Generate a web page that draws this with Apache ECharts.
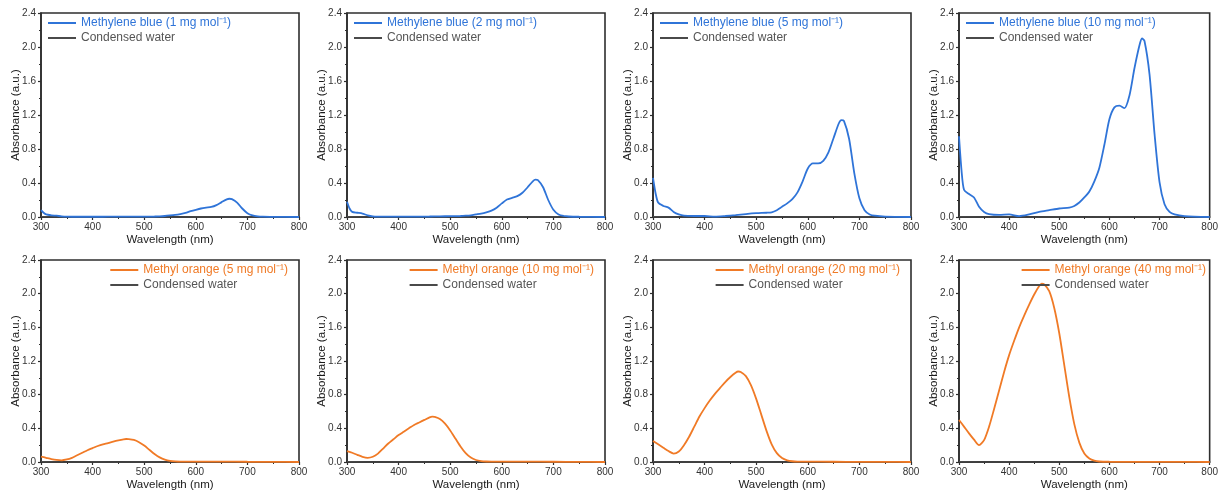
<!DOCTYPE html>
<html>
<head>
<meta charset="utf-8">
<script src="https://cdn.jsdelivr.net/npm/echarts@6/dist/echarts.min.js"></script>
<style>
  html, body { margin: 0; padding: 0; background: #fff; }
  #chart { width: 1221px; height: 492px; }
</style>
</head>
<body>
<div id="chart"></div>
<script>
// Wavelength grids (nm)
const mbWavelength = [300,305,310,320,330,340,350,360,380,400,420,440,460,480,500,520,530,540,550,560,570,580,590,600,610,620,630,640,650,660,665,670,680,690,700,710,720,730,750,800];
const moWavelength = [300,310,320,330,340,350,360,370,380,390,400,410,420,430,440,450,460,465,470,480,490,500,510,520,530,540,550,560,570,580,600,650,700,750,800];
const waterWavelength = [300,350,400,450,500,550,600,650,700,750,800];

// Methylene blue absorbance (a.u.)
const mb1 = [0.08,0.05,0.03,0.02,0.015,0.008,0.004,0.003,0.003,0.003,0.003,0.004,0.004,0.005,0.005,0.006,0.008,0.012,0.018,0.025,0.035,0.048,0.068,0.085,0.10,0.11,0.118,0.14,0.175,0.208,0.215,0.21,0.17,0.10,0.045,0.018,0.008,0.004,0.002,0.0];
const mb2 = [0.18,0.10,0.06,0.05,0.04,0.02,0.008,0.005,0.004,0.004,0.004,0.005,0.006,0.008,0.01,0.012,0.015,0.02,0.03,0.04,0.055,0.075,0.11,0.16,0.205,0.225,0.245,0.285,0.35,0.42,0.44,0.435,0.35,0.20,0.085,0.03,0.012,0.006,0.003,0.0];
const mb5 = [0.46,0.28,0.17,0.13,0.11,0.06,0.03,0.015,0.012,0.012,0.005,0.012,0.022,0.035,0.045,0.05,0.055,0.08,0.12,0.16,0.21,0.29,0.42,0.57,0.63,0.63,0.66,0.76,0.93,1.10,1.14,1.13,0.92,0.52,0.22,0.08,0.03,0.015,0.005,0.0];
const mb10 = [0.95,0.55,0.32,0.27,0.23,0.12,0.06,0.035,0.025,0.03,0.01,0.03,0.06,0.08,0.10,0.11,0.13,0.17,0.23,0.30,0.42,0.58,0.85,1.15,1.29,1.31,1.28,1.43,1.75,2.02,2.10,2.07,1.68,0.98,0.41,0.15,0.06,0.03,0.01,0.0];

// Methyl orange absorbance (a.u.)
const mo5 = [0.065,0.05,0.035,0.024,0.02,0.03,0.05,0.08,0.11,0.14,0.165,0.19,0.21,0.225,0.243,0.258,0.27,0.273,0.272,0.262,0.235,0.195,0.145,0.095,0.055,0.028,0.013,0.007,0.005,0.005,0.005,0.005,0.003,0.002,0.0];
const mo10 = [0.13,0.11,0.085,0.062,0.05,0.062,0.10,0.16,0.22,0.27,0.32,0.36,0.40,0.44,0.47,0.50,0.53,0.54,0.535,0.51,0.455,0.375,0.28,0.185,0.105,0.052,0.024,0.011,0.006,0.005,0.005,0.004,0.003,0.002,0.0];
const mo20 = [0.25,0.21,0.17,0.13,0.10,0.125,0.20,0.30,0.42,0.54,0.64,0.73,0.81,0.88,0.95,1.01,1.06,1.075,1.07,1.02,0.91,0.75,0.56,0.37,0.21,0.105,0.047,0.02,0.009,0.005,0.004,0.003,0.002,0.001,0.0];
const mo40 = [0.50,0.42,0.34,0.265,0.20,0.26,0.42,0.63,0.85,1.07,1.27,1.44,1.60,1.74,1.87,1.99,2.09,2.12,2.11,2.03,1.83,1.53,1.15,0.77,0.45,0.23,0.10,0.042,0.016,0.006,0.003,0.002,0.001,0.001,0.0];

// Condensed water baseline (a.u.)
const water = [0.004,-0.003,0.002,-0.004,0.001,-0.003,0.002,-0.002,0.001,-0.003,0.0];

// Axis ticks
const xTicks = { min: 300, max: 800, step: 100 };
const yTicks = { min: 0, max: 2.4, step: 0.4 };

const panelNames = [
  'Methylene blue (1 mg mol⁻¹)', 'Methylene blue (2 mg mol⁻¹)',
  'Methylene blue (5 mg mol⁻¹)', 'Methylene blue (10 mg mol⁻¹)',
  'Methyl orange (5 mg mol⁻¹)', 'Methyl orange (10 mg mol⁻¹)',
  'Methyl orange (20 mg mol⁻¹)', 'Methyl orange (40 mg mol⁻¹)'
];
const waterName = 'Condensed water';

const BLUE = '#2f74d8';
const ORANGE = '#f07a26';
const GRAY = '#4a4a4a';
const AXIS = '#2e2e2e';
const FONT = 'Arial, "Liberation Sans", sans-serif';

const panels = [
  { x: mbWavelength, y: mb1, color: BLUE },
  { x: mbWavelength, y: mb2, color: BLUE },
  { x: mbWavelength, y: mb5, color: BLUE },
  { x: mbWavelength, y: mb10, color: BLUE },
  { x: moWavelength, y: mo5, color: ORANGE },
  { x: moWavelength, y: mo10, color: ORANGE },
  { x: moWavelength, y: mo20, color: ORANGE },
  { x: moWavelength, y: mo40, color: ORANGE }
];

const W = 1221;
const colLeft = [41, 347, 653, 959];
const plotW = 258;
const rowTop = [13, 260];
const rowH = [204, 202];

const pairs = (xs, ys) => xs.map((x, i) => [x, ys[i]]);

const grid = [], xAxis = [], yAxis = [], series = [], legend = [];

panels.forEach((p, i) => {
  const row = Math.floor(i / 4), col = i % 4;
  const left = colLeft[col], top = rowTop[row];
  grid.push({
    left: left, top: top, width: plotW, height: rowH[row],
    show: true, borderColor: AXIS, borderWidth: 1.6, backgroundColor: 'transparent'
  });
  xAxis.push({
    type: 'value', gridIndex: i,
    min: xTicks.min, max: xTicks.max, interval: xTicks.step,
    name: 'Wavelength (nm)', nameLocation: 'middle', nameGap: 17, nameMoveOverlap: false,
    nameTextStyle: { fontFamily: FONT, fontSize: 11.5, color: '#1a1a1a' },
    axisLine: { show: true, onZero: false, lineStyle: { color: AXIS, width: 1.6 } },
    axisTick: { show: true, inside: false, length: 3, lineStyle: { color: AXIS, width: 1.2 } },
    minorTick: { show: true, splitNumber: 2, length: 2, lineStyle: { color: AXIS } },
    axisLabel: { fontFamily: FONT, fontSize: 10, color: '#333', margin: 5 },
    splitLine: { show: false }
  });
  yAxis.push({
    type: 'value', gridIndex: i,
    min: yTicks.min, max: yTicks.max, interval: yTicks.step,
    name: 'Absorbance (a.u.)', nameLocation: 'middle', nameGap: 19, nameRotate: 90,
    nameMoveOverlap: false,
    nameTextStyle: { fontFamily: FONT, fontSize: 11.5, color: '#1a1a1a' },
    axisLine: { show: true, onZero: false, lineStyle: { color: AXIS, width: 1.6 } },
    axisTick: { show: true, inside: false, length: 3, lineStyle: { color: AXIS, width: 1.2 } },
    minorTick: { show: true, splitNumber: 2, length: 2, lineStyle: { color: AXIS } },
    axisLabel: { fontFamily: FONT, fontSize: 10, color: '#333', margin: 5,
                 formatter: v => v.toFixed(1) },
    splitLine: { show: false }
  });
  series.push({
    type: 'line', name: waterName, xAxisIndex: i, yAxisIndex: i,
    data: pairs(waterWavelength, water), showSymbol: false, silent: true,
    lineStyle: { color: GRAY, width: 1.2 }, itemStyle: { color: GRAY }, z: 2
  });
  series.push({
    type: 'line', name: panelNames[i], xAxisIndex: i, yAxisIndex: i,
    data: pairs(p.x, p.y), showSymbol: false, silent: true,
    smooth: 0.25,
    lineStyle: { color: p.color, width: 1.8 }, itemStyle: { color: p.color }, z: 3
  });
  const lg = {
    orient: 'vertical', selectedMode: false,
    icon: 'rect', itemWidth: 28, itemHeight: 2, itemGap: 3, padding: 0,
    textStyle: { fontFamily: FONT, fontSize: 12 },
    data: [
      { name: panelNames[i], textStyle: { color: p.color } },
      { name: waterName, textStyle: { color: '#555' } }
    ]
  };
  if (row === 0) {
    lg.left = left + 7; lg.top = top + 4;
  } else {
    lg.right = W - (left + plotW) + 11; lg.top = top + 4;
  }
  legend.push(lg);
});

const chart = echarts.init(document.getElementById('chart'), null, { renderer: 'canvas' });
chart.setOption({
  animation: false,
  backgroundColor: '#ffffff',
  grid, xAxis, yAxis, series, legend
});
</script>
</body>
</html>
